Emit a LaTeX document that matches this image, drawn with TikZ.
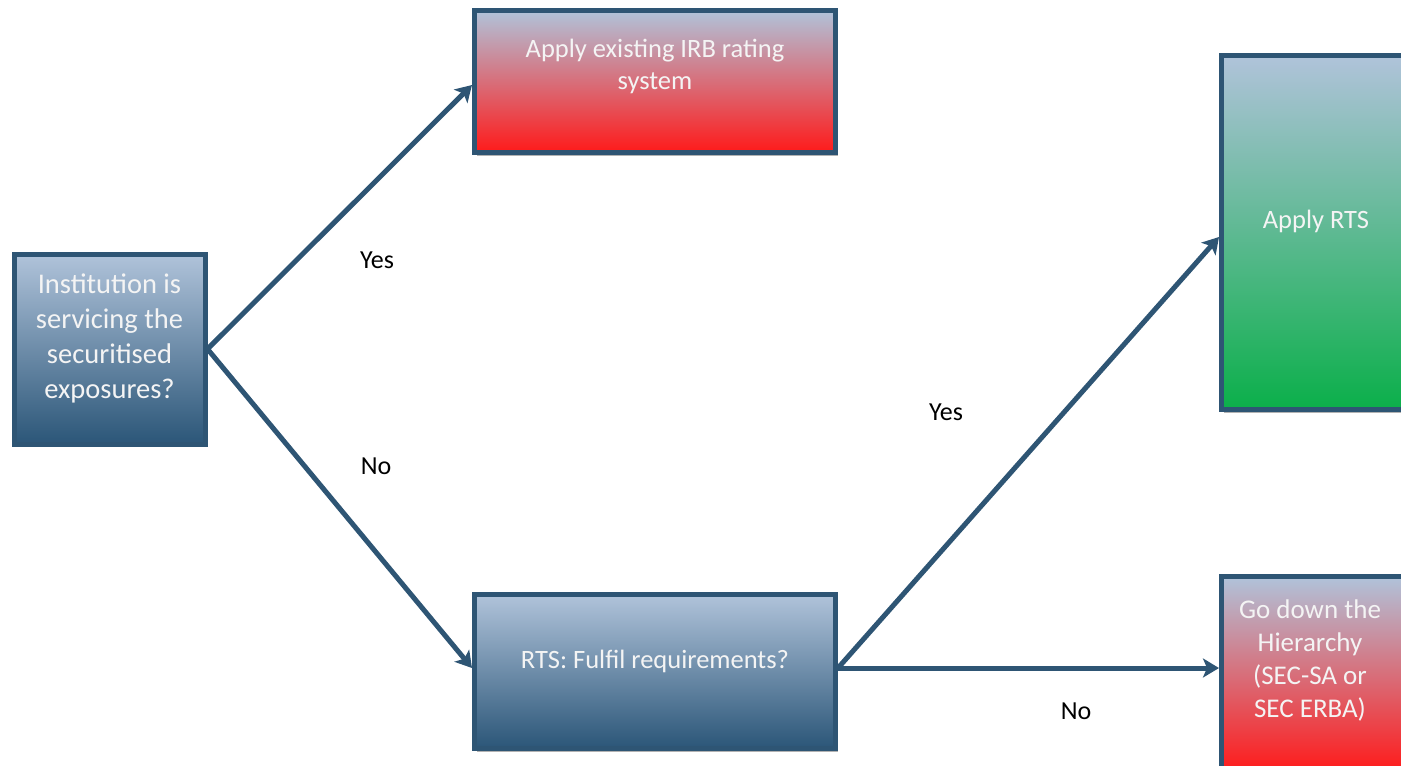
\documentclass[tikz,border=0pt]{standalone}
\usepackage{fontspec}
\setmainfont{Carlito}
\usetikzlibrary{arrows.meta,shadows,shadings}
\definecolor{edgeblue}{HTML}{2E5574}
\definecolor{topblue}{HTML}{B0C3DA}
\definecolor{botblue}{HTML}{2B5678}
\definecolor{midblue}{HTML}{7B93AE}
\definecolor{boxred}{HTML}{FF1A1A}
\definecolor{midred}{HTML}{D8A0B0}
\definecolor{boxgreen}{HTML}{0BAF4A}
\definecolor{midgreen}{HTML}{86BDA4}
\definecolor{textwhite}{HTML}{F4F4F4}
\tikzset{
  box/.style={rectangle, draw=edgeblue, line width=5pt, inner sep=0pt,
    drop shadow={shadow xshift=2pt, shadow yshift=-3pt, opacity=0.3, fill=black}},
  bluebox/.style={box, top color=topblue, middle color=midblue, bottom color=botblue},
  redbox/.style={box, top color=topblue, middle color=midred, bottom color=boxred},
  greenbox/.style={box, top color=topblue, middle color=midgreen, bottom color=boxgreen},
  boxtext/.style={text=textwhite, align=center, inner sep=0pt},
  conn/.style={draw=edgeblue, line width=5pt, -{Stealth[length=16pt,width=19pt,inset=4pt]}},
  lbl/.style={text=black, font=\fontsize{26}{31}\selectfont}
}
\begin{document}
\begin{tikzpicture}[x=1pt,y=-1pt]
\useasboundingbox (0,0) rectangle (1401,766);
% boxes
\node[bluebox, minimum width=191pt, minimum height=190pt] (A) at (109.5,349) {};
\node[redbox, minimum width=361pt, minimum height=142pt] (B) at (655,81.5) {};
\node[bluebox, minimum width=361pt, minimum height=154pt] (E) at (655,671.5) {};
\node[greenbox, minimum width=189pt, minimum height=354pt] (C) at (1316,232.5) {};
\node[redbox, minimum width=189pt, minimum height=196pt] (D) at (1316,674.5) {};
% texts
\node[boxtext, font=\fontsize{28.5}{35}\selectfont] (At) at (109.5,338) {Institution is\\servicing the\\securitised\\exposures?};
\node[boxtext, font=\fontsize{26.5}{32}\selectfont] (Bt) at (655,66) {Apply existing IRB rating\\system};
\node[boxtext, font=\fontsize{26.5}{32}\selectfont] (Et) at (655,661) {RTS: Fulfil requirements?};
\node[boxtext, font=\fontsize{26.5}{32}\selectfont] (Ct) at (1316,221) {Apply RTS};
\node[boxtext, font=\fontsize{27}{33}\selectfont] (Dt) at (1310,660) {Go down the\\Hierarchy\\(SEC-SA or\\SEC ERBA)};
% connectors
\draw[conn] (A.east) -- (B.west |- 0,85);
\draw[conn] (A.east) -- (E.west |- 0,668);
\draw[conn] (E.east |- 0,668) -- (C.west |- 0,237);
\draw[conn] (E.east |- 0,668) -- (D.west |- 0,668);
% labels
\node[lbl] (y1) at (377,260) {Yes};
\node[lbl] (n1) at (376,466) {No};
\node[lbl] (y2) at (946,412) {Yes};
\node[lbl] (n2) at (1076,711) {No};
\end{tikzpicture}
\end{document}
